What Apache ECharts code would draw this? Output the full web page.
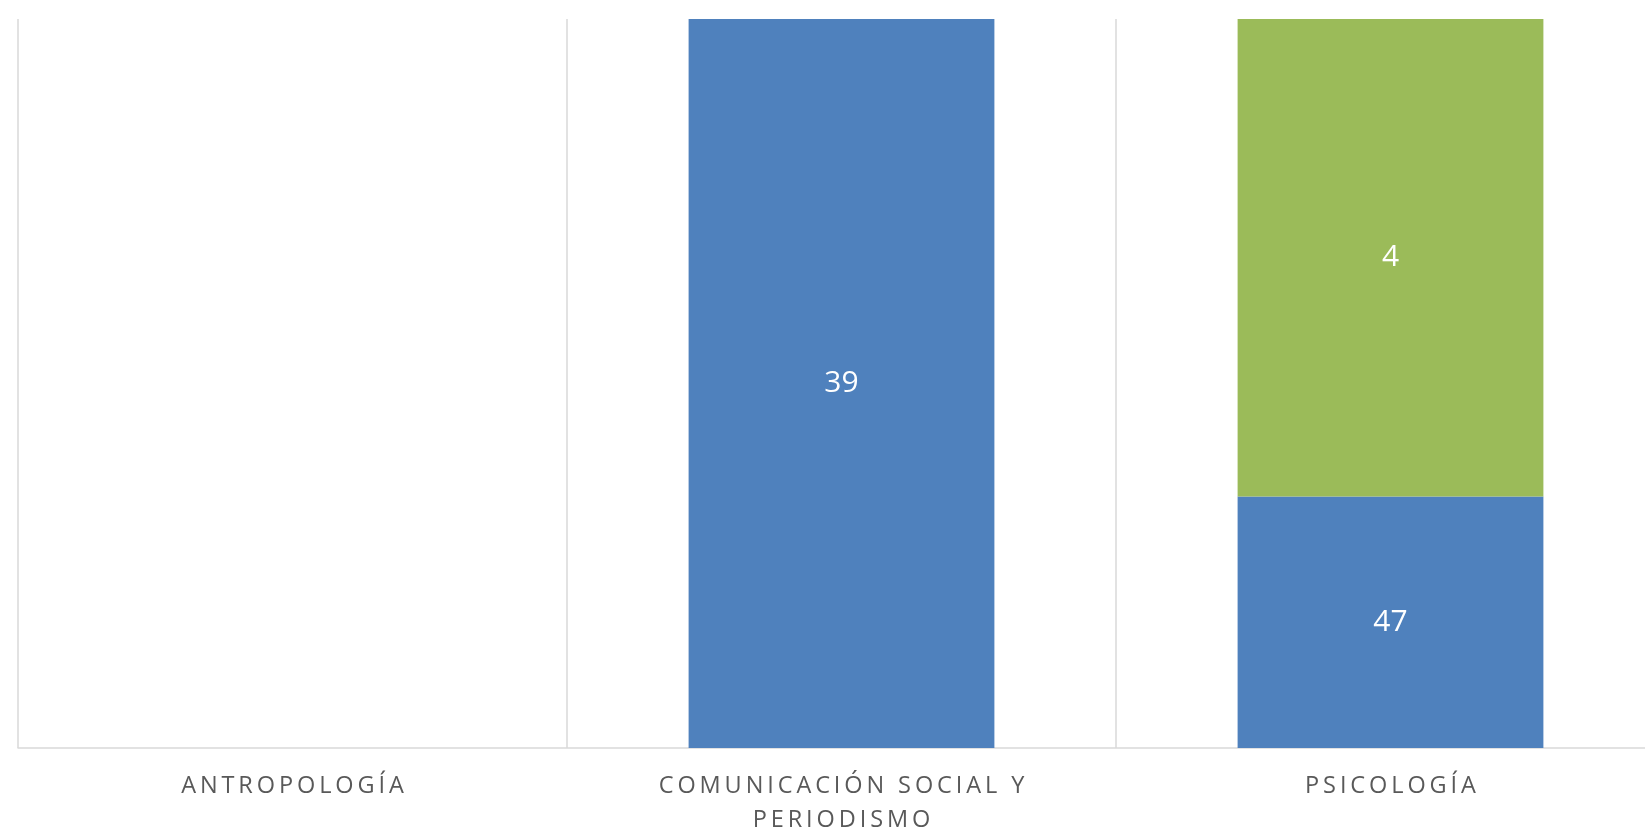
<!DOCTYPE html>
<html><head><meta charset="utf-8">
<script src="https://cdn.jsdelivr.net/npm/echarts@6/dist/echarts.min.js"></script>
<style>html,body{margin:0;padding:0;background:#fff;overflow:hidden}#c{width:1700px;height:834px}</style>
</head><body><div id="c"></div>
<script>
const categories = ['ANTROPOLOGÍA', 'COMUNICACIÓN SOCIAL Y\nPERIODISMO', 'PSICOLOGÍA'];
// visible share of each column (percent of plot height)
const blueShare = [0, 100, 34.5];
const greenShare = [0, 0, 65.5];
// data labels shown on the segments
const blueLabels = ['', '39', '47'];
const greenLabels = ['', '', '4'];

function spaced(s) {
  return s.split('\n').map(line => line.split('').join('\u2009')).join('\n');
}

const chart = echarts.init(document.getElementById('c'));
chart.setOption({
  animation: false,
  grid: {left: 18, top: 19, width: 1647, height: 729, containLabel: false, outerBoundsMode: 'none'},
  xAxis: {
    type: 'category', data: categories,
    axisLine: {lineStyle: {color: '#d9d9d9', width: 1.5}},
    axisTick: {show: false},
    splitLine: {show: true, lineStyle: {color: '#d9d9d9', width: 1.5}},
    axisLabel: {color: '#595959', fontFamily: 'Open Sans', fontSize: 23.5, margin: 21, lineHeight: 34,
      formatter: v => spaced(v)}
  },
  yAxis: {type: 'value', min: 0, max: 100, show: false, splitLine: {show: false}},
  series: [
    {type: 'bar', stack: 's', data: blueShare, barWidth: '55.7%',
      itemStyle: {color: '#4f81bd'},
      label: {show: true, position: 'inside', color: '#fff', fontFamily: 'Open Sans', fontSize: 30,
        formatter: p => blueLabels[p.dataIndex]}},
    {type: 'bar', stack: 's', data: greenShare, barWidth: '55.7%',
      itemStyle: {color: '#9bbb59'},
      label: {show: true, position: 'inside', color: '#fff', fontFamily: 'Open Sans', fontSize: 30,
        formatter: p => greenLabels[p.dataIndex]}}
  ]
});
</script></body></html>
